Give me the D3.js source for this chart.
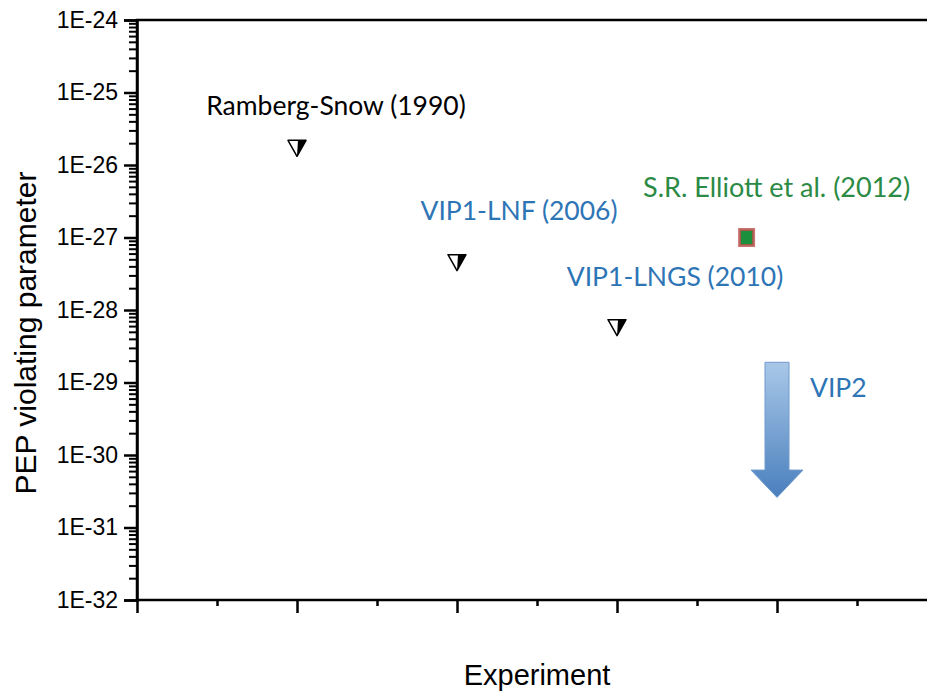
<!DOCTYPE html>
<html>
<head>
<meta charset="utf-8">
<script src="https://cdn.jsdelivr.net/npm/d3@7"></script>
<style>
  body { margin: 0; background: #fff; }
  .axis path, .axis line { stroke: #000; }
</style>
</head>
<body>
<div id="chart"></div>
<script>
// data
var experiments = ["Ramberg-Snow (1990)", "VIP1-LNF (2006)", "VIP1-LNGS (2010)"];
var expX = [1, 2, 3];
var expLimit = [1.7e-26, 4.5e-28, 5.7e-29];

var elliottName = ["S.R. Elliott et al. (2012)"];
var elliottX = [3.81];
var elliottValue = [1e-27];

// VIP2 arrow: top of shaft, base of head, tip
var vip2Name = "VIP2";
var vip2X = 4;
var vip2Values = [1.9e-29, 6.2e-31, 2.6e-31];

var yTickValues = [1e-24, 1e-25, 1e-26, 1e-27, 1e-28, 1e-29, 1e-30, 1e-31, 1e-32];
var yTickLabels = ["1E-24", "1E-25", "1E-26", "1E-27", "1E-28", "1E-29", "1E-30", "1E-31", "1E-32"];
var xMajor = [0, 1, 2, 3, 4, 5];
var xMinor = [0.5, 1.5, 2.5, 3.5, 4.5];

var width = 927, height = 691;
var margin = {top: 20, left: 137, bottom: 91};

var svg = d3.select("#chart").append("svg")
    .attr("width", width)
    .attr("height", height);

//
// Scales
//
var x = d3.scaleLinear().domain([0, 5]).range([margin.left, margin.left + 800]);
var y = d3.scaleLog().domain([1e-32, 1e-24]).range([height - margin.bottom, margin.top]);

// frame (right edge runs off the picture)
svg.append("rect")
    .attr("x", x(0))
    .attr("y", y(1e-24))
    .attr("width", x(5) - x(0))
    .attr("height", y(1e-32) - y(1e-24))
    .attr("fill", "none")
    .attr("stroke", "#000")
    .attr("stroke-width", 2.5);

// minor y ticks
var minorY = [];
for (var e = -32; e < -24; e++) {
    for (var m = 2; m <= 9; m++) minorY.push(m * Math.pow(10, e));
}
svg.append("g")
    .attr("class", "axis")
    .attr("transform", "translate(" + x(0) + ",0)")
    .call(d3.axisLeft(y).tickValues(minorY).tickSize(8).tickFormat(""))
    .call(function(g) { g.select(".domain").remove(); })
    .selectAll("line").attr("stroke-width", 2);

// major y ticks
var yAxis = svg.append("g")
    .attr("class", "axis")
    .attr("transform", "translate(" + x(0) + ",0)")
    .call(d3.axisLeft(y).tickValues(yTickValues).tickSize(13).tickPadding(6)
        .tickFormat(function(d, i) { return yTickLabels[i]; }));
yAxis.select(".domain").attr("stroke-width", 2.5);
yAxis.selectAll("line").attr("stroke-width", 2.5);
yAxis.selectAll("text")
    .attr("fill", "#000")
    .style("font-family", "Liberation Sans, Arial, sans-serif")
    .style("font-size", "23px");

// x ticks
svg.append("g")
    .attr("class", "axis")
    .attr("transform", "translate(0," + y(1e-32) + ")")
    .call(d3.axisBottom(x).tickValues(xMinor).tickSize(6).tickFormat(""))
    .call(function(g) { g.select(".domain").remove(); })
    .selectAll("line").attr("stroke-width", 2.5);
svg.append("g")
    .attr("class", "axis")
    .attr("transform", "translate(0," + y(1e-32) + ")")
    .call(d3.axisBottom(x).tickValues(xMajor).tickSize(13).tickFormat(""))
    .call(function(g) { g.select(".domain").remove(); })
    .selectAll("line").attr("stroke-width", 2.5);

// axis titles
svg.append("text")
    .attr("transform", "translate(36," + 333 + ") rotate(-90)")
    .attr("text-anchor", "middle")
    .style("font-family", "Liberation Sans, Arial, sans-serif")
    .style("font-size", "30px")
    .text("PEP violating parameter");

svg.append("text")
    .attr("x", 537)
    .attr("y", 685)
    .attr("text-anchor", "middle")
    .style("font-family", "Liberation Sans, Arial, sans-serif")
    .style("font-size", "29px")
    .text("Experiment");

//
// Upper limits (half filled down triangles)
//
var pts = experiments.map(function(name, i) {
    return {name: name, x: expX[i], v: expLimit[i]};
});
var tri = svg.selectAll("g.limit").data(pts).enter().append("g")
    .attr("class", "limit")
    .attr("transform", function(d) { return "translate(" + x(d.x) + "," + y(d.v) + ")"; });
tri.append("path")
    .attr("d", "M-9,-8L9,-8L0,8Z")
    .attr("fill", "#fff")
    .attr("stroke", "#000")
    .attr("stroke-width", 1.5)
    .attr("stroke-linejoin", "round");
tri.append("path")
    .attr("d", "M1,-8L9,-8L0,8Z")
    .attr("fill", "#000");

// Elliott et al. point
svg.selectAll("rect.elliott").data(elliottValue).enter().append("rect")
    .attr("class", "elliott")
    .attr("x", function(d, i) { return x(elliottX[i]) - 7; })
    .attr("y", function(d) { return y(d) - 8; })
    .attr("width", 14)
    .attr("height", 16)
    .attr("fill", "#1a8f3c")
    .attr("stroke", "#c0504d")
    .attr("stroke-opacity", 0.8)
    .attr("stroke-width", 3);

// VIP2 arrow
var grad = svg.append("defs").append("linearGradient")
    .attr("id", "arrowGrad")
    .attr("x1", 0).attr("y1", 0).attr("x2", 0).attr("y2", 1);
grad.append("stop").attr("offset", "0%").attr("stop-color", "#a9c8e8");
grad.append("stop").attr("offset", "100%").attr("stop-color", "#4a7fbd");

var ax = x(vip2X);
var yTop = y(vip2Values[0]), yHead = y(vip2Values[1]), yTip = y(vip2Values[2]);
svg.append("path")
    .attr("d", "M" + (ax - 12) + "," + yTop + "L" + (ax + 12) + "," + yTop +
        "L" + (ax + 12) + "," + yHead + "L" + (ax + 26) + "," + yHead +
        "L" + ax + "," + yTip + "L" + (ax - 26) + "," + yHead +
        "L" + (ax - 12) + "," + yHead + "Z")
    .attr("fill", "url(#arrowGrad)")
    .attr("stroke", "#6f9bcf")
    .attr("stroke-width", 1);

//
// Annotations
//
var labelFont = "Lato, 'Open Sans', sans-serif";
var offs = [[39, -33], [62, -43], [58, -42]];
var colors = ["#000", "#2e75b6", "#2e75b6"];
pts.forEach(function(d, i) {
    svg.append("text")
        .attr("x", x(d.x) + offs[i][0])
        .attr("y", y(d.v) + offs[i][1])
        .attr("text-anchor", "middle")
        .attr("fill", colors[i])
        .style("font-family", labelFont)
        .style("font-size", "26.5px")
        .text(d.name);
});

svg.append("text")
    .attr("x", x(elliottX[0]) + 30)
    .attr("y", y(elliottValue[0]) - 41)
    .attr("text-anchor", "middle")
    .attr("fill", "#2b8a44")
    .style("font-family", labelFont)
    .style("font-size", "27px")
    .text(elliottName[0]);

svg.append("text")
    .attr("x", ax + 33)
    .attr("y", yTop + 35)
    .attr("fill", "#2e75b6")
    .style("font-family", labelFont)
    .style("font-size", "26.5px")
    .text(vip2Name);
</script>
</body>
</html>
